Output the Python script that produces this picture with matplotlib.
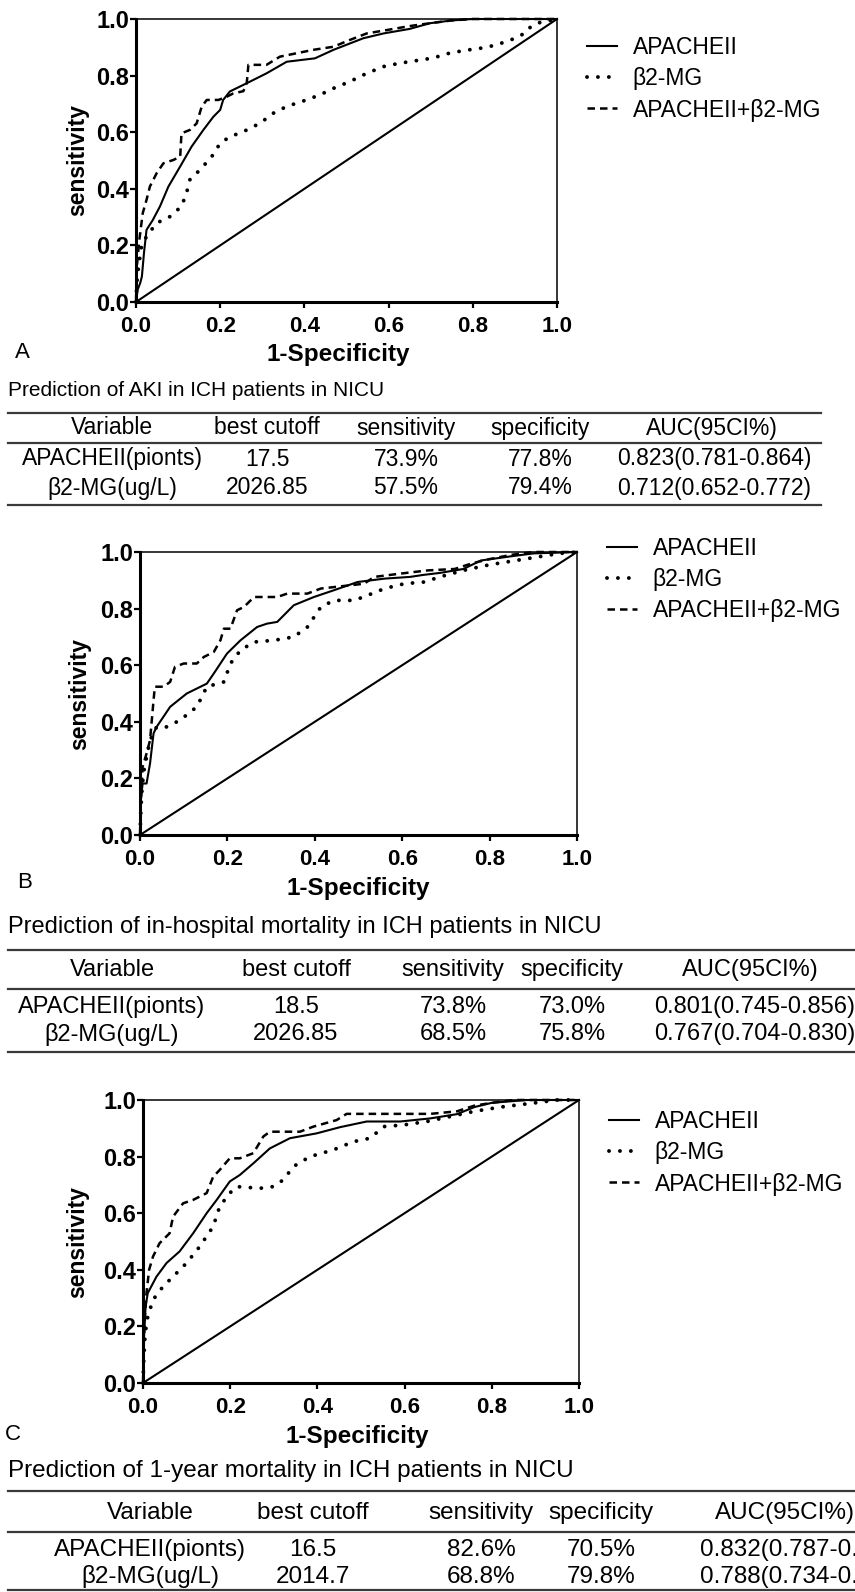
import matplotlib
matplotlib.use('Agg')
import matplotlib.pyplot as plt
from matplotlib.lines import Line2D
from matplotlib.ticker import FormatStrFormatter

plt.rcParams['font.family'] = ['Liberation Sans', 'DejaVu Sans']

W, H = 855, 1592

# ---------------- data ----------------
series_names = ["APACHEII", "β2-MG", "APACHEII+β2-MG"]

# Panel A (AKI)
a_apache_fpr = [0, 0.004, 0.01, 0.014, 0.019, 0.025, 0.04, 0.057, 0.077, 0.105, 0.132, 0.16, 0.184, 0.2, 0.207,
                0.223, 0.263, 0.31, 0.358, 0.425, 0.469, 0.54, 0.588, 0.65, 0.698, 0.75, 0.8, 0.9, 1.0]
a_apache_tpr = [0, 0.044, 0.067, 0.09, 0.174, 0.255, 0.29, 0.338, 0.408, 0.479, 0.549, 0.608, 0.655, 0.679, 0.714,
                0.744, 0.773, 0.808, 0.849, 0.861, 0.891, 0.932, 0.949, 0.965, 0.985, 0.995, 1.0, 1.0, 1.0]
a_b2mg_fpr = [0, 0.002, 0.006, 0.013, 0.025, 0.049, 0.081, 0.108, 0.12, 0.128, 0.152, 0.18, 0.2, 0.223, 0.255,
              0.295, 0.326, 0.358, 0.405, 0.437, 0.469, 0.508, 0.548, 0.588, 0.627, 0.675, 0.705, 0.746, 0.786,
              0.834, 0.88, 0.9, 0.924, 0.936, 0.952, 1.0]
a_b2mg_tpr = [0, 0.067, 0.126, 0.196, 0.232, 0.279, 0.302, 0.338, 0.385, 0.432, 0.467, 0.514, 0.561, 0.584, 0.602,
              0.632, 0.667, 0.691, 0.714, 0.732, 0.755, 0.779, 0.808, 0.832, 0.844, 0.855, 0.862, 0.88, 0.89,
              0.90, 0.92, 0.932, 0.95, 0.97, 0.985, 1.0]
a_comb_fpr = [0, 0.002, 0.008, 0.016, 0.025, 0.033, 0.049, 0.065, 0.089, 0.105, 0.108, 0.128, 0.144, 0.156, 0.168,
              0.196, 0.215, 0.231, 0.255, 0.263, 0.267, 0.31, 0.342, 0.421, 0.469, 0.508, 0.548, 0.596, 0.65,
              0.698, 0.75, 0.8, 1.0]
a_comb_tpr = [0, 0.126, 0.22, 0.314, 0.361, 0.408, 0.455, 0.49, 0.502, 0.514, 0.596, 0.608, 0.631, 0.69, 0.714,
              0.714, 0.725, 0.737, 0.745, 0.773, 0.838, 0.838, 0.867, 0.891, 0.902, 0.926, 0.949, 0.961, 0.975,
              0.985, 0.995, 1.0, 1.0]

# Panel B (in-hospital mortality)
b_apache_fpr = [0, 0.002, 0.006, 0.015, 0.023, 0.031, 0.038, 0.069, 0.107, 0.153, 0.169, 0.199, 0.23, 0.268,
                0.291, 0.314, 0.352, 0.398, 0.444, 0.498, 0.56, 0.618, 0.648, 0.686, 0.74, 0.78, 0.85, 0.9, 1.0]
b_apache_tpr = [0, 0.124, 0.182, 0.182, 0.253, 0.359, 0.382, 0.453, 0.5, 0.535, 0.571, 0.641, 0.688, 0.735,
                0.747, 0.753, 0.812, 0.841, 0.865, 0.894, 0.906, 0.912, 0.919, 0.926, 0.94, 0.97, 0.985, 0.995, 1.0]
b_b2mg_fpr = [0, 0.002, 0.004, 0.008, 0.015, 0.023, 0.038, 0.061, 0.092, 0.13, 0.153, 0.192, 0.207, 0.23, 0.261,
              0.307, 0.352, 0.383, 0.414, 0.444, 0.49, 0.521, 0.56, 0.605, 0.651, 0.686, 0.74, 0.8, 0.86, 0.92,
              0.96, 1.0]
b_b2mg_tpr = [0, 0.088, 0.147, 0.218, 0.276, 0.335, 0.382, 0.382, 0.406, 0.453, 0.524, 0.541, 0.606, 0.653, 0.682,
              0.688, 0.7, 0.735, 0.806, 0.829, 0.829, 0.847, 0.871, 0.888, 0.894, 0.912, 0.935, 0.955, 0.97, 0.985,
              0.995, 1.0]
b_comb_fpr = [0, 0.002, 0.006, 0.015, 0.023, 0.031, 0.034, 0.054, 0.069, 0.08, 0.1, 0.13, 0.146, 0.169, 0.184,
              0.192, 0.207, 0.222, 0.238, 0.261, 0.314, 0.337, 0.383, 0.414, 0.444, 0.513, 0.536, 0.598, 0.659,
              0.72, 0.76, 0.8, 0.85, 0.9, 1.0]
b_comb_tpr = [0, 0.124, 0.241, 0.288, 0.335, 0.476, 0.524, 0.524, 0.541, 0.594, 0.606, 0.606, 0.629, 0.647, 0.688,
              0.729, 0.729, 0.794, 0.806, 0.841, 0.841, 0.853, 0.853, 0.871, 0.876, 0.888, 0.912, 0.924, 0.935,
              0.94, 0.96, 0.975, 0.99, 1.0, 1.0]

# Panel C (1-year mortality)
c_apache_fpr = [0, 0.002, 0.006, 0.011, 0.031, 0.054, 0.084, 0.115, 0.146, 0.169, 0.199, 0.222, 0.253, 0.291,
                0.337, 0.398, 0.452, 0.513, 0.59, 0.659, 0.72, 0.76, 0.8, 0.88, 1.0]
c_apache_tpr = [0, 0.153, 0.271, 0.318, 0.376, 0.424, 0.465, 0.529, 0.6, 0.647, 0.712, 0.735, 0.776, 0.829,
                0.865, 0.882, 0.904, 0.924, 0.924, 0.935, 0.95, 0.975, 0.99, 1.0, 1.0]
c_b2mg_fpr = [0, 0.002, 0.005, 0.011, 0.023, 0.046, 0.069, 0.1, 0.13, 0.161, 0.176, 0.199, 0.215, 0.268, 0.299,
              0.322, 0.345, 0.383, 0.437, 0.483, 0.521, 0.552, 0.598, 0.651, 0.7, 0.76, 0.82, 0.9, 0.95, 1.0]
c_b2mg_tpr = [0, 0.094, 0.176, 0.235, 0.294, 0.341, 0.376, 0.424, 0.482, 0.553, 0.624, 0.671, 0.694, 0.688, 0.694,
              0.718, 0.765, 0.8, 0.824, 0.853, 0.865, 0.906, 0.912, 0.924, 0.94, 0.96, 0.975, 0.99, 1.0, 1.0]
c_comb_fpr = [0, 0.002, 0.005, 0.008, 0.014, 0.023, 0.038, 0.061, 0.069, 0.092, 0.115, 0.146, 0.161, 0.176, 0.199,
              0.222, 0.253, 0.276, 0.291, 0.36, 0.391, 0.444, 0.467, 0.659, 0.72, 0.76, 0.8, 0.85, 1.0]
c_comb_tpr = [0, 0.153, 0.247, 0.318, 0.4, 0.447, 0.494, 0.529, 0.588, 0.635, 0.647, 0.671, 0.729, 0.753, 0.794,
              0.794, 0.812, 0.871, 0.888, 0.888, 0.906, 0.929, 0.951, 0.951, 0.96, 0.98, 0.99, 1.0, 1.0]

ref_line = [0, 1]
ticks = [0.0, 0.2, 0.4, 0.6, 0.8, 1.0]

table_header = ["Variable", "best cutoff", "sensitivity", "specificity", "AUC(95CI%)"]
titles = ["Prediction of AKI in ICH patients in NICU",
          "Prediction of in-hospital mortality in ICH patients in NICU",
          "Prediction of 1-year mortality in ICH patients in NICU"]
a_rows = [["APACHEII(pionts)", "17.5", "73.9%", "77.8%", "0.823(0.781-0.864)"],
          ["β2-MG(ug/L)", "2026.85", "57.5%", "79.4%", "0.712(0.652-0.772)"]]
b_rows = [["APACHEII(pionts)", "18.5", "73.8%", "73.0%", "0.801(0.745-0.856)"],
          ["β2-MG(ug/L)", "2026.85", "68.5%", "75.8%", "0.767(0.704-0.830)"]]
c_rows = [["APACHEII(pionts)", "16.5", "82.6%", "70.5%", "0.832(0.787-0.877)"],
          ["β2-MG(ug/L)", "2014.7", "68.8%", "79.8%", "0.788(0.734-0.842)"]]
panel_letters = ["A", "B", "C"]

# ---------------- layout (pixels) ----------------
fig = plt.figure(figsize=(W / 100, H / 100), dpi=100)


def fx(px):
    return px / W


def fy(py):
    return 1 - py / H


panels = [
    dict(box=(136, 19, 557, 302), leg=(587, 49), letter=(22, 353), xlab=(338, 355), ylab=78,
         curves=[(a_apache_fpr, a_apache_tpr), (a_b2mg_fpr, a_b2mg_tpr), (a_comb_fpr, a_comb_tpr)],
         title=titles[0], rows=a_rows, tfs=16.5, titfs=15,
         tys=dict(title=390, top=413, head=428, mid=443, r1=459, r2=488, bot=505),
         cols=[112, 267, 406, 540, 714], hcols=[112, 267, 406, 540, 712], rule=(8, 821)),
    dict(box=(140, 552, 577, 835), leg=(607, 550), letter=(25, 882), xlab=(358, 888), ylab=80,
         curves=[(b_apache_fpr, b_apache_tpr), (b_b2mg_fpr, b_b2mg_tpr), (b_comb_fpr, b_comb_tpr)],
         title=titles[1], rows=b_rows, tfs=17, titfs=17,
         tys=dict(title=927, top=950, head=970, mid=989, r1=1007, r2=1034, bot=1052),
         cols=[112, 296, 453, 572, 755], hcols=[112, 296, 453, 572, 750], rule=(8, 855)),
    dict(box=(143, 1100, 579, 1383), leg=(609, 1123), letter=(13, 1434), xlab=(357, 1437), ylab=78,
         curves=[(c_apache_fpr, c_apache_tpr), (c_b2mg_fpr, c_b2mg_tpr), (c_comb_fpr, c_comb_tpr)],
         title=titles[2], rows=c_rows, tfs=17.5, titfs=17.5,
         tys=dict(title=1471, top=1491, head=1513, mid=1532, r1=1550, r2=1577, bot=1590),
         cols=[150, 313, 481, 601, 803], hcols=[150, 313, 481, 601, 785], rule=(8, 855)),
]

styles = [
    dict(color='black', lw=1.5, ls='-'),
    dict(color='black', lw=2.8, ls=(0, (0.01, 2.8)), dash_capstyle='round'),
    dict(color='black', lw=1.8, ls=(0, (3, 2))),
]

for i, p in enumerate(panels):
    l, t, r, b = p['box']
    ax = fig.add_axes([fx(l), fy(b), fx(r - l), (b - t) / H])
    ax.plot(ref_line, ref_line, color='black', lw=1.5, clip_on=False)
    handles = []
    for (xs, ys), st, name in zip(p['curves'], styles, series_names):
        ln, = ax.plot(xs, ys, label=name, clip_on=False, solid_joinstyle='round', **st)
        handles.append(ln)
    ax.set_xlim(0, 1)
    ax.set_ylim(0, 1)
    ax.set_xticks(ticks)
    ax.set_yticks(ticks)
    ax.xaxis.set_major_formatter(FormatStrFormatter('%.1f'))
    ax.yaxis.set_major_formatter(FormatStrFormatter('%.1f'))
    for s in ['left', 'bottom']:
        ax.spines[s].set_linewidth(2.2)
    for s in ['top', 'right']:
        ax.spines[s].set_linewidth(1.1)
    ax.tick_params(axis='both', direction='out', length=4.3, width=1.6, colors='black')
    ax.tick_params(axis='x', pad=6, labelsize=16)
    ax.tick_params(axis='y', pad=0.8, labelsize=17)
    for lab in ax.get_xticklabels() + ax.get_yticklabels():
        lab.set_fontweight('bold')
    ax.set_xlabel("1-Specificity", fontsize=17.5, fontweight='bold')
    ax.set_ylabel("sensitivity", fontsize=16.5, fontweight='bold')
    ax.xaxis.label.set_va('center')
    ax.yaxis.label.set_va('center')
    xlx, xly = p['xlab']
    ax.xaxis.set_label_coords((xlx - l) / (r - l), (b - xly) / (b - t))
    ax.yaxis.set_label_coords((p['ylab'] - l) / (r - l), 0.5)

    hx, hy = p['leg']
    ax.legend(handles=handles, loc='upper left', bbox_to_anchor=(fx(hx), fy(hy - 13)),
              bbox_transform=fig.transFigure, frameon=False, borderpad=0, borderaxespad=0,
              handlelength=1.3, handletextpad=0.7, labelspacing=0.36, fontsize=16.5)

    lx, ly = p['letter']
    fig.text(fx(lx), fy(ly), panel_letters[i], fontsize=16, ha='center', va='center')

    # table
    ty = p['tys']
    fs = p['tfs']
    fig.text(fx(8), fy(ty['title']), p['title'], fontsize=p['titfs'], ha='left', va='center')
    x0, x1 = p['rule']
    for key in ['top', 'mid', 'bot']:
        fig.add_artist(Line2D([fx(x0), fx(x1)], [fy(ty[key]), fy(ty[key])], transform=fig.transFigure,
                              color='#3a3a3a', lw=1.6))
    for cx, txt in zip(p['hcols'], table_header):
        fig.text(fx(cx), fy(ty['head']), txt, fontsize=fs, ha='center', va='center')
    for row, key in zip(p['rows'], ['r1', 'r2']):
        for cx, txt in zip(p['cols'], row):
            fig.text(fx(cx), fy(ty[key]), txt, fontsize=fs, ha='center', va='center')

fig.savefig('out.png', dpi=100)
